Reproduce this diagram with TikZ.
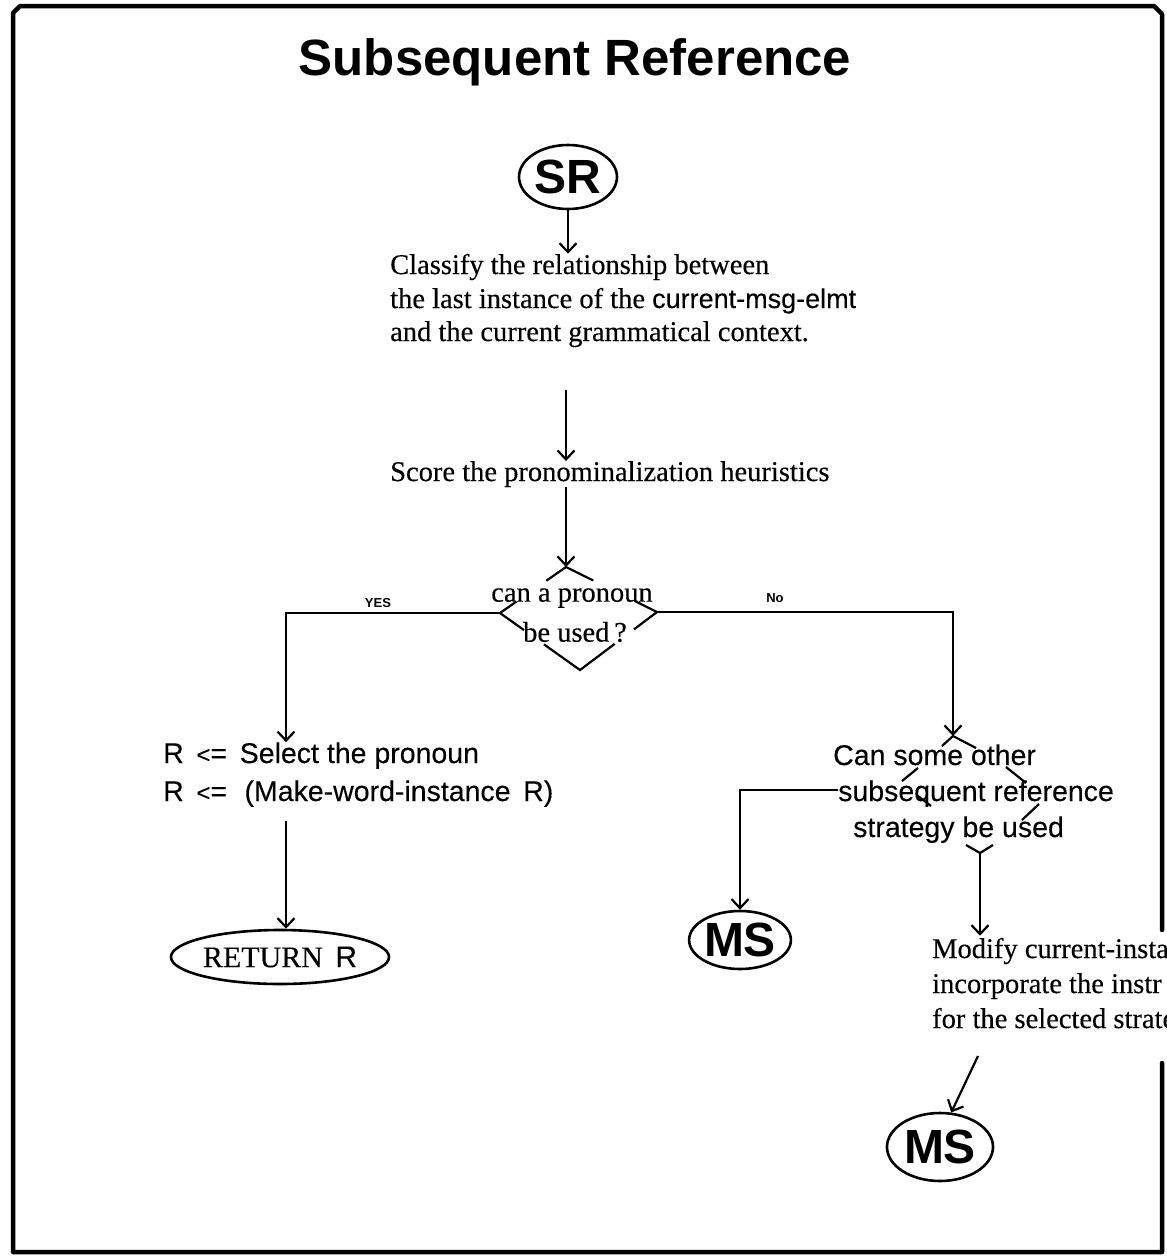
\documentclass[tikz,border=0pt]{standalone}
\usepackage{fontspec}
\setmainfont{Liberation Serif}[FakeBold=0.3]
\setsansfont{Liberation Sans}[FakeBold=0.2]
\newfontfamily\titlefont{Liberation Sans Bold}
\usetikzlibrary{arrows.meta,calc,shapes.geometric}

\begin{document}
\begin{tikzpicture}[x=1pt,y=-1pt,
  flow/.style={-{Straight Barb[length=9pt,width=17pt,line width=2.2pt]}, line width=2.2pt},
  wire/.style={line width=2.2pt},
  serifline/.style={inner sep=0pt, font=\fontsize{28.5}{34}\selectfont},
  sansline/.style={inner sep=0pt, font=\sffamily\fontsize{28.5}{34}\selectfont},
  term/.style={ellipse, draw, line width=2.6pt, inner sep=0pt,
    font=\titlefont\fontsize{48}{48}\selectfont},
  tag/.style={inner sep=0pt, font=\titlefont\fontsize{13}{13}\selectfont},
  frame/.style={line width=4.5pt, line cap=round, line join=round}
]
\useasboundingbox (0,0) rectangle (1167,1259);
\clip (0,0) rectangle (1167,1259);

% outer frame (the right edge is interrupted by the text that runs over it)
\draw[frame] (1162,930) -- (1162,14) -- (1154,6) -- (20,6) -- (13,13) -- (13,1252) -- (1162,1252) -- (1162,1063);

% title
\node[inner sep=0pt, font=\titlefont\fontsize{51}{51}\selectfont] (title) at (575,62) {Subsequent Reference};

% start terminal
\node[term, minimum width=98pt, minimum height=64pt] (sr) at (568,177) {SR};

% classification step
\node[serifline, anchor=base west] (c1) at (390,274) {Classify the relationship between};
\node[serifline, anchor=base west] (c2) at (390,308) {the last instance of the {\sffamily\fontsize{27}{34}\selectfont current-msg-elmt}};
\node[serifline, anchor=base west] (c3) at (390,341) {and the current grammatical context.};
\draw[flow] (sr.south) -- (sr.south |- c1.north);

% scoring step
\node[serifline, anchor=base west] (score) at (390,481) {Score the pronominalization heuristics};
\coordinate (a1) at (566,390);
\draw[flow] (a1) -- (a1 |- score.north);

% first decision
\coordinate (dT) at (566,567);
\coordinate (dL) at (500,613);
\coordinate (dR) at (657,612);
\coordinate (dB) at (580,670);
\node[serifline] (q1a) at (572,598) {can a pronoun};
\node[serifline] (q1b) at (575,632) {be used\,?};
\draw[wire] ($(dT)!0.3!(dL)$) -- (dT) -- ($(dT)!0.3!(dR)$);
\draw[wire] ($(dL)!0.25!(dT)$) -- (dL) -- ($(dL)!0.3!(dB)$);
\draw[wire] ($(dR)!0.25!(dT)$) -- (dR) -- ($(dR)!0.3!(dB)$);
\draw[wire] ($(dB)!0.45!(dL)$) -- (dB) -- ($(dB)!0.45!(dR)$);
\draw[flow] (score.south -| dT) -- (dT);

% yes branch
\node[sansline, anchor=base west] (r1) at (163,763) {R \,{\fontsize{24}{24}\selectfont\textless}=\, Select the pronoun};
\node[sansline, anchor=base west] (r2) at (163,801) {R \,{\fontsize{24}{24}\selectfont\textless}=\,\, (Make-word-instance\, R)};
\coordinate (ycol) at (286,613);
\draw[flow] (dL) -- (ycol) -- (ycol |- r1.north);
\node[tag] (yes) at (378,603) {YES};
\node[draw, ellipse, line width=2.6pt, inner sep=0pt, minimum width=194pt, minimum height=54pt,
  font=\fontsize{30}{30}\selectfont] (ret) at (280,957) {RETURN\, {\sffamily R}};
\draw[flow] (ycol |- r2.south) ++(0,14) -- (ycol |- ret.north);

% no branch and second decision
\coordinate (eT) at (953,736);
\coordinate (eL) at (838,790);
\coordinate (eB) at (980,853);
\node[sansline, anchor=base west] (s1) at (833,765) {Can some other};
\node[sansline, anchor=base west] (s2) at (838,801) {subsequent reference};
\node[sansline, anchor=base west] (s3) at (853,837) {strategy be used};
\node[tag] (no) at (775,598) {No};
\draw[flow] (dR) -- (dR -| eT) -- (eT);
\draw[wire] (942,746) -- (953,736) -- (976,748);
\draw[wire] (902,781) -- (918,768);
\draw[wire] (1006,767) -- (1026,783);
\draw[wire] (918,796) -- (931,806);
\draw[wire] (1022,820) -- (1039,804);
\draw[wire] (966,845) -- (eB) -- (993,845);

\node[term, minimum width=98pt, minimum height=58pt] (ms1) at (740,940) {MS};
\coordinate (mcol) at (740,790);
\draw[flow] (eL) -- (mcol) -- (ms1.north);

% modification step
\node[serifline, anchor=base west, fill=white, inner sep=2pt] (m1) at (930,958) {Modify current-insta};
\node[serifline, anchor=base west, fill=white, inner sep=2pt] (m2) at (930,993) {incorporate the instr};
\node[serifline, anchor=base west, fill=white, inner sep=2pt] (m3) at (930,1028) {for the selected strate};
\draw[flow] (eB) -- (eB |- m1.north);

\node[term, minimum width=106pt, minimum height=68pt] (ms2) at (940,1147) {MS};
\coordinate (a2) at (978,1056);
\draw[flow] (a2) -- (ms2.72);

\end{tikzpicture}
\end{document}
